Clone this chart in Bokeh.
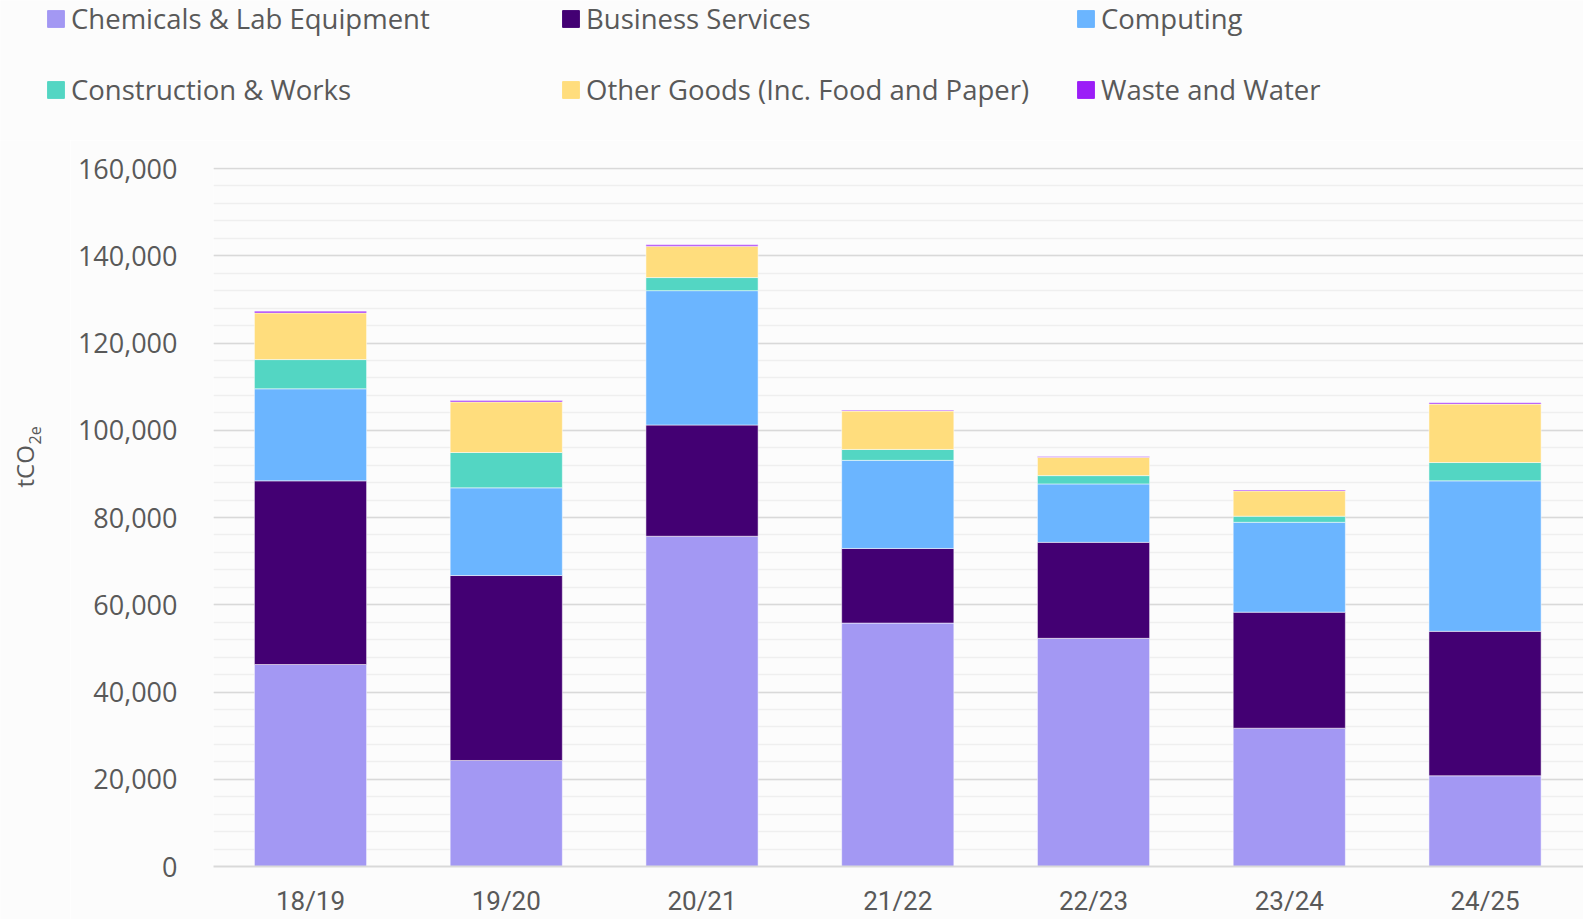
import math
from bokeh.plotting import figure
from bokeh.layouts import column, row
from bokeh.models import (Range1d, SingleIntervalTicker, FixedTicker, NumeralTickFormatter,
                          Legend, LegendItem, ColumnDataSource, Label)
from bokeh.embed import file_html
from bokeh.resources import INLINE

categories = ["18/19", "19/20", "20/21", "21/22", "22/23", "23/24", "24/25"]
chemicals = [46300, 24300, 75700, 55800, 52300, 31700, 20800]
business = [42100, 42400, 25500, 17100, 22000, 26600, 33100]
computing = [21100, 20100, 30800, 20200, 13400, 20600, 34500]
construction = [6700, 8100, 3000, 2500, 1900, 1400, 4200]
other_goods = [10700, 11600, 7200, 8800, 4200, 5800, 13400]
waste_water = [400, 300, 300, 200, 200, 200, 300]

series_keys = ["chemicals", "business", "computing", "construction", "other_goods", "waste_water"]
series_names = ["Chemicals & Lab Equipment", "Business Services", "Computing",
                "Construction & Works", "Other Goods (Inc. Food and Paper)", "Waste and Water"]
colors = ["#A398F3", "#430073", "#6BB5FF", "#53D6C3", "#FFDD7D", "#9B1EF7"]
y_title_main = "tCO"
y_title_sub = "2e"

source = ColumnDataSource(dict(
    x=list(range(len(categories))),
    chemicals=chemicals, business=business, computing=computing,
    construction=construction, other_goods=other_goods, waste_water=waste_water,
))

FONT = "Open Sans"
TXT = "#595959"
BG = "#FCFCFC"
W, H = 1583, 919
LEG_H = 140
TITLE_W = 70


def blank(width, height):
    f = figure(width=width, height=height, output_backend="svg", toolbar_location=None,
               x_range=Range1d(0, width), y_range=Range1d(0, height),
               x_axis_type=None, y_axis_type=None, min_border=0,
               background_fill_color=BG, border_fill_color=BG, outline_line_color=None)
    f.xgrid.grid_line_color = None
    f.ygrid.grid_line_color = None
    f.frame_align = False
    return f


# ---------------- legend strip (top) ----------------
lf = blank(W, LEG_H)
col_x = [45, 560, 1075]
row_y = [103, 32]
for i, (name, c) in enumerate(zip(series_names, colors)):
    # off-screen swatch renderer, used only to draw the legend square
    swatch = lf.vbar(x=[-1000], top=[-1000], width=1, fill_color=c, line_color=c)
    leg = Legend(items=[LegendItem(label=name, renderers=[swatch])],
                 location=(col_x[i % 3], row_y[i // 3]),
                 border_line_color=None, background_fill_alpha=0,
                 padding=0, margin=0, spacing=0,
                 glyph_width=21, glyph_height=21, label_standoff=5,
                 label_text_font=FONT, label_text_font_size="27.5px",
                 label_text_color=TXT, label_text_baseline="middle")
    lf.add_layout(leg)

# ---------------- y-axis title strip (left) ----------------
CH = H - LEG_H
tf = blank(TITLE_W, CH)
tf.add_layout(Label(x=24, y=H - 487, text=y_title_main, angle=math.pi / 2,
                    text_align="left", text_baseline="alphabetic",
                    text_font=FONT, text_font_size="24px", text_color=TXT))
tf.add_layout(Label(x=34.5, y=H - 444, text=y_title_sub, angle=math.pi / 2,
                    text_align="left", text_baseline="alphabetic",
                    text_font=FONT, text_font_size="16px", text_color=TXT))

# ---------------- chart ----------------
p = figure(width=W - TITLE_W, height=CH, output_backend="svg", toolbar_location=None,
           x_range=Range1d(-0.4955, 6.503), y_range=Range1d(0, 160230),
           min_border_left=213 - TITLE_W, min_border_right=0, min_border_top=27,
           min_border_bottom=53,
           background_fill_color=BG, border_fill_color=BG, outline_line_color=None)
p.frame_align = False

p.vbar_stack(series_keys, x="x", width=0.573, source=source, color=colors,
             line_color="white", line_alpha=0.5, line_width=1)

p.yaxis.ticker = SingleIntervalTicker(interval=20000, num_minor_ticks=5)
p.yaxis.formatter = NumeralTickFormatter(format="0,0")
p.yaxis.major_tick_line_color = None
p.yaxis.minor_tick_line_color = None
p.yaxis.axis_line_color = None
p.yaxis.major_label_standoff = 30
p.yaxis.major_label_text_font = FONT
p.yaxis.major_label_text_font_size = "27px"
p.yaxis.major_label_text_color = TXT

p.xaxis.ticker = FixedTicker(ticks=list(range(len(categories))))
p.xaxis.major_label_overrides = {i: c for i, c in enumerate(categories)}
p.xaxis.major_tick_line_color = None
p.xaxis.minor_tick_line_color = None
p.xaxis.axis_line_color = "#D9D9D9"
p.xaxis.axis_line_width = 2
p.xaxis.major_label_standoff = 13
p.xaxis.major_label_text_font = "Roboto"
p.xaxis.major_label_text_font_size = "26px"
p.xaxis.major_label_text_color = TXT

p.xgrid.grid_line_color = None
p.ygrid.grid_line_color = "#D9D9D9"
p.ygrid.grid_line_width = 1.5
p.ygrid.minor_grid_line_color = "#EFEFEF"
p.ygrid.minor_grid_line_width = 1.5

layout = column(lf, row(tf, p, spacing=0), spacing=0)
open("out.html", "w").write(file_html(layout, INLINE))
